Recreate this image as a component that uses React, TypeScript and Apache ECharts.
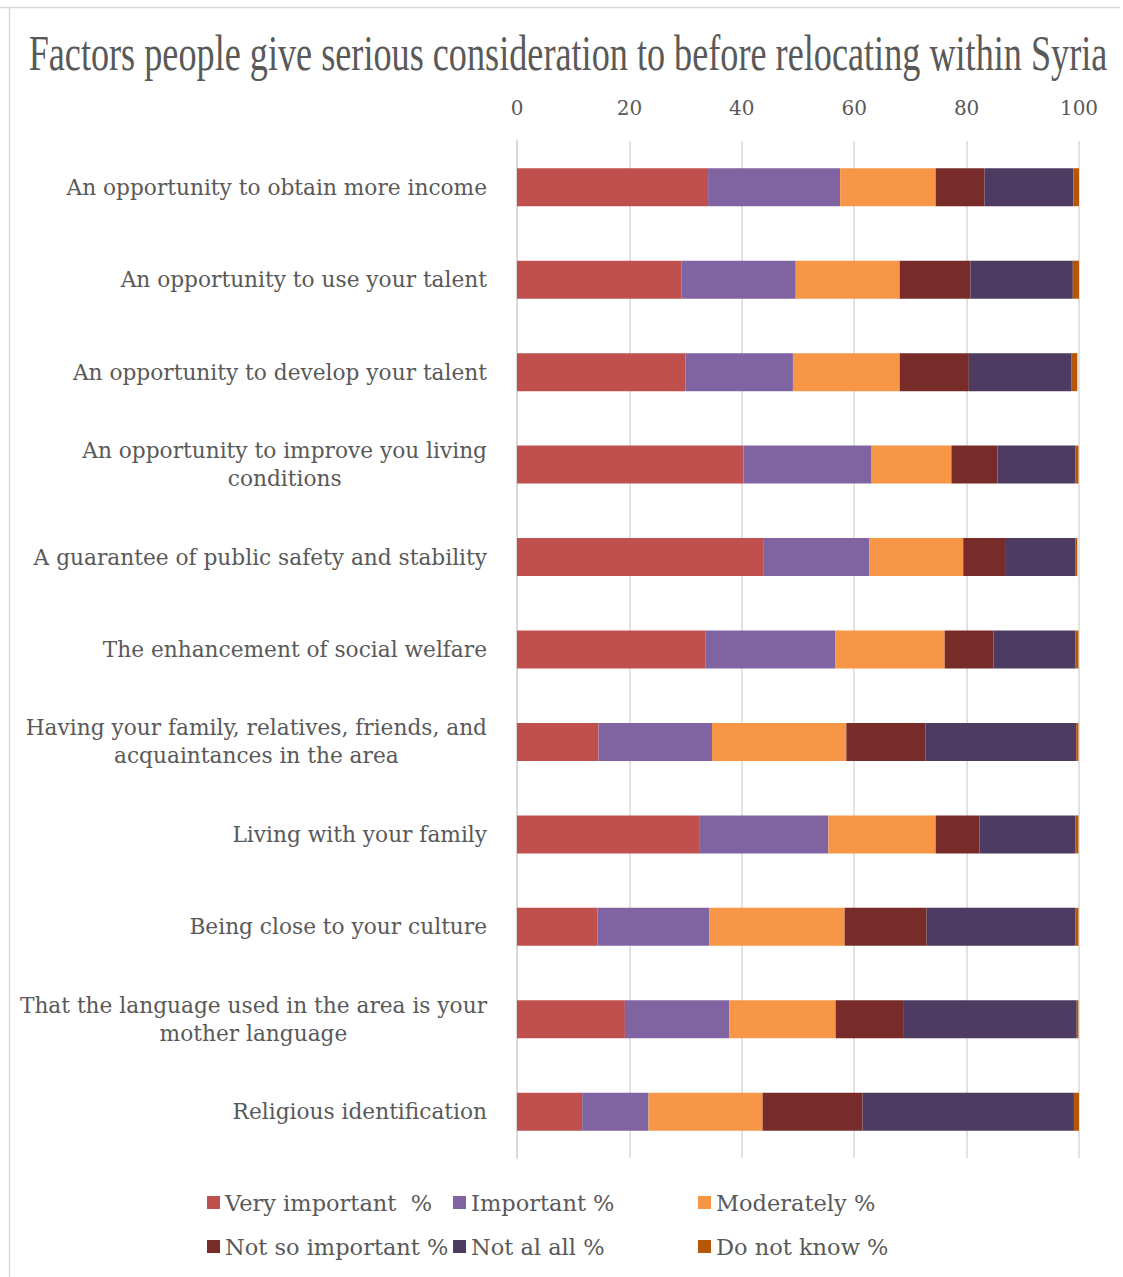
import React, { useEffect, useRef } from "react";
import * as echarts from "echarts";

const categories = [
  "An opportunity to obtain more income",
  "An opportunity to use your talent",
  "An opportunity to develop your talent",
  "An opportunity to improve you living\nconditions",
  "A guarantee of public safety and stability",
  "The enhancement of social welfare",
  "Having your family, relatives, friends, and\nacquaintances in the area",
  "Living with your family",
  "Being close to your culture",
  "That the language used in the area is your\nmother language",
  "Religious identification",
];

const seriesNames = [
  "Very important  %",
  "Important %",
  "Moderately %",
  "Not so important %",
  "Not al all %",
  "Do not know %",
];

const veryImportant = [34.0, 29.3, 30.0, 40.3, 43.8, 33.5, 14.5, 32.4, 14.3, 19.2, 11.6];
const important = [23.5, 20.3, 19.1, 22.8, 18.9, 23.1, 20.2, 23.0, 19.9, 18.6, 11.8];
const moderately = [17.0, 18.5, 19.0, 14.2, 16.7, 19.5, 23.9, 19.1, 24.1, 18.9, 20.3];
const notSoImportant = [8.7, 12.6, 12.3, 8.2, 7.6, 8.7, 14.1, 7.8, 14.6, 12.0, 17.8];
const notAtAll = [15.8, 18.2, 18.2, 13.9, 12.4, 14.6, 26.8, 17.1, 26.5, 30.9, 37.6];
const doNotKnow = [1.0, 1.1, 1.1, 0.5, 0.3, 0.5, 0.4, 0.5, 0.5, 0.3, 0.9];

const colors = ["#C0504D", "#8064A2", "#F79646", "#772C2A", "#4D3B62", "#B65708"];
const title = "Factors people give serious consideration to before relocating within Syria";

const FONT = "DejaVu Serif";
const GREY = "#595959";

export default function App() {
  const ref = useRef<HTMLDivElement>(null);
  useEffect(() => {
    if (!ref.current) return;
    const chart = echarts.init(ref.current, null, { renderer: "svg" });
    const values = [veryImportant, important, moderately, notSoImportant, notAtAll, doNotKnow];
    const legendCol = (names: string[], left: number) => ({
      orient: "vertical" as const,
      left,
      top: 1191,
      padding: 0,
      itemWidth: 13,
      itemHeight: 13,
      itemGap: 21,
      icon: "rect",
      data: names,
      selectedMode: false,
      textStyle: { fontFamily: FONT, fontSize: 22.5, color: GREY, lineHeight: 22 },
    });
    chart.setOption({
      animation: false,
      backgroundColor: "#ffffff",
      graphic: [
        { type: "line", shape: { x1: 0, y1: 7.5, x2: 1120, y2: 7.5 }, style: { stroke: "#d9d9d9", lineWidth: 1.5 } },
        { type: "line", shape: { x1: 9.5, y1: 7, x2: 9.5, y2: 1277 }, style: { stroke: "#d9d9d9", lineWidth: 1.5 } },
        {
          type: "text",
          x: 568,
          y: 53,
          scaleX: 0.71,
          style: {
            text: title,
            fontFamily: "Liberation Serif",
            fontSize: 51,
            fill: GREY,
            textAlign: "center",
            textVerticalAlign: "middle",
          },
        },
      ],
      legend: [
        legendCol([seriesNames[0], seriesNames[3]], 207),
        legendCol([seriesNames[1], seriesNames[4]], 453),
        legendCol([seriesNames[2], seriesNames[5]], 698),
      ],
      grid: { left: 517, right: 44, top: 141, bottom: 119 },
      xAxis: {
        type: "value",
        position: "top",
        min: 0,
        max: 100,
        interval: 20,
        axisLine: { show: false },
        axisTick: { show: false },
        splitLine: { lineStyle: { color: "#d9d9d9", width: 1.5 } },
        axisLabel: { fontFamily: FONT, fontSize: 20, color: GREY, margin: 23 },
      },
      yAxis: {
        type: "category",
        inverse: true,
        data: categories,
        axisTick: { show: false },
        axisLine: { show: true, lineStyle: { color: "#d9d9d9", width: 2 } },
        axisLabel: {
          margin: 30,
          formatter: (v: string) => v.split("\n").map((l) => `{c|${l}}`).join("\n"),
          rich: {
            c: { fontFamily: FONT, fontSize: 21.7, color: GREY, align: "center", lineHeight: 28 },
          },
        },
      },
      series: seriesNames.map((name, i) => ({
        name,
        type: "bar",
        stack: "total",
        barWidth: 38,
        itemStyle: { color: colors[i] },
        data: values[i],
      })),
    });
    return () => chart.dispose();
  }, []);
  return <div ref={ref} style={{ position: "absolute", left: 0, top: 0, width: 1123, height: 1277 }} />;
}
